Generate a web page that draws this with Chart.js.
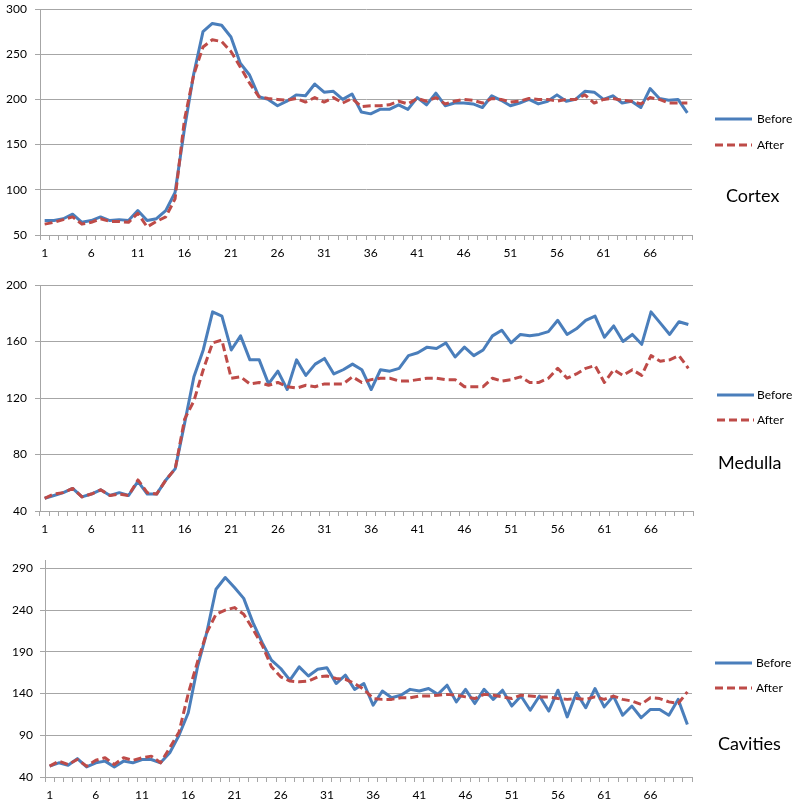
<!DOCTYPE html>
<html>
<head>
<meta charset="utf-8">
<script src="https://cdn.jsdelivr.net/npm/chart.js@4"></script>
<style>
html,body{margin:0;padding:0;background:#fff;}
#wrap{position:relative;width:800px;height:805px;overflow:hidden;font-family:Lato,"Open Sans",sans-serif;}
.panel{position:absolute;left:0;width:800px;}
.panel canvas{display:block;}
.leg{position:absolute;font-size:12px;color:#000;line-height:14px;white-space:nowrap;height:14px;}
.leg svg{position:absolute;left:0;top:5px;}
.leg span{position:absolute;top:0;}
.name{position:absolute;font-size:18px;color:#000;line-height:20px;white-space:nowrap;}
</style>
</head>
<body>
<div id="wrap"></div>
<script>
// ---------- data ----------
const categories = ['1','2','3','4','5','6','7','8','9','10','11','12','13','14','15','16','17','18','19','20',
  '21','22','23','24','25','26','27','28','29','30','31','32','33','34','35','36','37','38','39','40',
  '41','42','43','44','45','46','47','48','49','50','51','52','53','54','55','56','57','58','59','60',
  '61','62','63','64','65','66','67','68','69','70'];
const xTickLabels = ['1','6','11','16','21','26','31','36','41','46','51','56','61','66'];
const seriesNames = ['Before','After'];
const panelNames = ['Cortex','Medulla','Cavities'];

const cortexTicks = [50,100,150,200,250,300];
const medullaTicks = [40,80,120,160,200];
const cavitiesTicks = [40,90,140,190,240,290];

const cortexBefore = [66,66,68,73,64,66,70,66,67,66, 77,66,68,77,97,167,228,275,284,282,
  269,240,227,203,200,193,198,205,204,217, 208,209,200,206,186,184,189,189,194,189,
  202,194,207,193,196,196,195,191,204,199, 193,196,200,195,198,205,198,200,209,208,
  200,204,196,198,191,212,201,199,200,185];
const cortexAfter = [62,64,67,70,62,64,68,65,65,64, 74,59,65,70,90,177,227,258,266,264,
  253,236,218,203,201,200,199,201,197,202, 197,202,196,201,192,193,193,194,198,195,
  201,198,202,195,198,200,199,196,201,200, 197,198,201,200,200,198,200,200,205,196,
  200,201,199,198,195,202,200,196,196,196];

const medullaBefore = [49,51,53,56,50,52,55,51,53,51, 61,52,52,62,70,102,135,154,181,178,
  154,164,147,147,130,139,126,147,136,144, 148,137,140,144,140,126,140,139,141,150,
  152,156,155,159,149,156,150,154,164,168, 159,165,164,165,167,175,165,169,175,178,
  163,171,160,165,158,181,173,165,174,172];
const medullaAfter = [49,52,53,56,50,52,55,51,52,51, 62,53,52,62,70,105,118,140,159,161,
  134,135,130,131,129,131,128,127,129,128, 130,130,130,135,131,133,134,134,132,132,
  133,134,134,133,133,128,128,128,134,132, 133,135,131,131,134,141,134,137,141,143,
  131,140,136,140,136,150,146,147,150,141];

const cavitiesBefore = [53,57,54,62,52,57,59,52,59,57, 61,61,57,69,90,117,172,213,265,279,
  267,254,225,201,180,170,156,172,161,169, 171,152,162,145,152,126,143,135,138,145,
  143,146,139,150,130,145,128,145,133,144, 125,137,120,137,119,144,112,141,123,146,
  124,137,114,125,111,121,121,114,133,103];
const cavitiesAfter = [53,59,55,61,53,60,63,55,63,60, 63,65,57,75,94,140,178,213,235,240,
  243,235,217,198,172,160,155,154,155,160, 161,158,157,152,145,134,133,133,135,135,
  137,137,138,139,138,136,134,139,138,136, 134,138,137,136,136,134,133,134,133,136,
  133,137,133,131,127,135,134,130,128,142];

// ---------- layout / style ----------
const BLUE = '#4a7ebb';
const RED = '#be4b48';
const GRID = '#a6a6a6';
const FONT = {family: 'Lato', size: 12};

const panels = [
  {name: panelNames[0], before: cortexBefore, after: cortexAfter, ticks: cortexTicks, min: 50, max: 300,
   top: 0, height: 268, padTop: 9, padRight: 108, axisW: 40, xAxisH: 33, tickPad: 8,
   legX: 715, legTextX: 757, legY: [119, 145], nameX: 726, nameY: 195},
  {name: panelNames[1], before: medullaBefore, after: medullaAfter, ticks: medullaTicks, min: 40, max: 200,
   top: 268, height: 276, padTop: 17, padRight: 107, axisW: 40, xAxisH: 33, tickPad: 8,
   legX: 717, legTextX: 757, legY: [395, 420], nameX: 718, nameY: 462},
  {name: panelNames[2], before: cavitiesBefore, after: cavitiesAfter, ticks: cavitiesTicks, min: 40, max: 300,
   top: 544, height: 261, padTop: 16, padRight: 108, axisW: 45, xAxisH: 28, tickPad: 7,
   legX: 715, legTextX: 756, legY: [663, 688], nameX: 718, nameY: 743}
];

const wrap = document.getElementById('wrap');

panels.forEach((p) => {
  const div = document.createElement('div');
  div.className = 'panel';
  div.style.top = p.top + 'px';
  div.style.height = p.height + 'px';
  const canvas = document.createElement('canvas');
  canvas.width = 800;
  canvas.height = p.height;
  canvas.style.width = '800px';
  canvas.style.height = p.height + 'px';
  div.appendChild(canvas);
  wrap.appendChild(div);

  const datasets = [
    {label: seriesNames[0], data: p.before, borderColor: BLUE, backgroundColor: BLUE, borderWidth: 3,
     pointRadius: 0, tension: 0, fill: false, order: 1, borderJoinStyle: 'round'},
    {label: seriesNames[1], data: p.after, borderColor: RED, backgroundColor: RED, borderWidth: 3,
     borderDash: [8, 4], pointRadius: 0, tension: 0, fill: false, order: 0, borderJoinStyle: 'round'}
  ];

  const chart = new Chart(canvas.getContext('2d'), {
    type: 'line',
    data: {labels: categories, datasets: datasets},
    options: {
      responsive: false,
      animation: false,
      devicePixelRatio: 1,
      layout: {padding: {top: p.padTop, right: p.padRight, left: 0, bottom: 0}},
      plugins: {legend: {display: false}, tooltip: {enabled: false}, title: {display: false}},
      scales: {
        x: {
          type: 'category',
          offset: true,
          grid: {display: true, drawOnChartArea: false, drawTicks: true, tickLength: 5, offset: true, color: GRID, lineWidth: 1},
          border: {display: true, color: GRID, width: 1},
          ticks: {
            autoSkip: false, maxRotation: 0, minRotation: 0, padding: 6, color: '#000', font: FONT,
            callback: function (v, i) {
              const l = this.getLabelForValue(v);
              return xTickLabels.includes(l) ? l : '';
            }
          },
          afterFit: (s) => { s.height = p.xAxisH; s.paddingLeft = 0; s.paddingRight = 0; }
        },
        y: {
          type: 'linear',
          min: p.min,
          max: p.max,
          grid: {display: true, drawTicks: true, tickLength: 5, color: GRID, lineWidth: 1},
          border: {display: true, color: GRID, width: 1},
          ticks: {padding: p.tickPad, color: '#000', font: FONT},
          afterBuildTicks: (s) => { s.ticks = p.ticks.map((v) => ({value: v})); },
          afterFit: (s) => { s.width = p.axisW; s.paddingTop = 0; s.paddingBottom = 0; }
        }
      }
    }
  });

  // legend (HTML text) built from the chart's datasets
  chart.data.datasets.forEach((ds, k) => {
    const item = document.createElement('div');
    item.className = 'leg';
    item.style.left = p.legX + 'px';
    item.style.top = (p.legY[k] - 7) + 'px';
    const len = 37;
    const dash = ds.borderDash ? ds.borderDash.join(',') : 'none';
    item.innerHTML = '<svg width="' + len + '" height="4"><line x1="0" y1="2" x2="' + len + '" y2="2" stroke="' +
      ds.borderColor + '" stroke-width="3" stroke-dasharray="' + dash + '"/></svg>' +
      '<span style="left:' + (p.legTextX - p.legX) + 'px">' + ds.label + '</span>';
    wrap.appendChild(item);
  });

  const nm = document.createElement('div');
  nm.className = 'name';
  nm.style.left = p.nameX + 'px';
  nm.style.top = (p.nameY - 10) + 'px';
  nm.textContent = p.name;
  wrap.appendChild(nm);
});
</script>
</body>
</html>
